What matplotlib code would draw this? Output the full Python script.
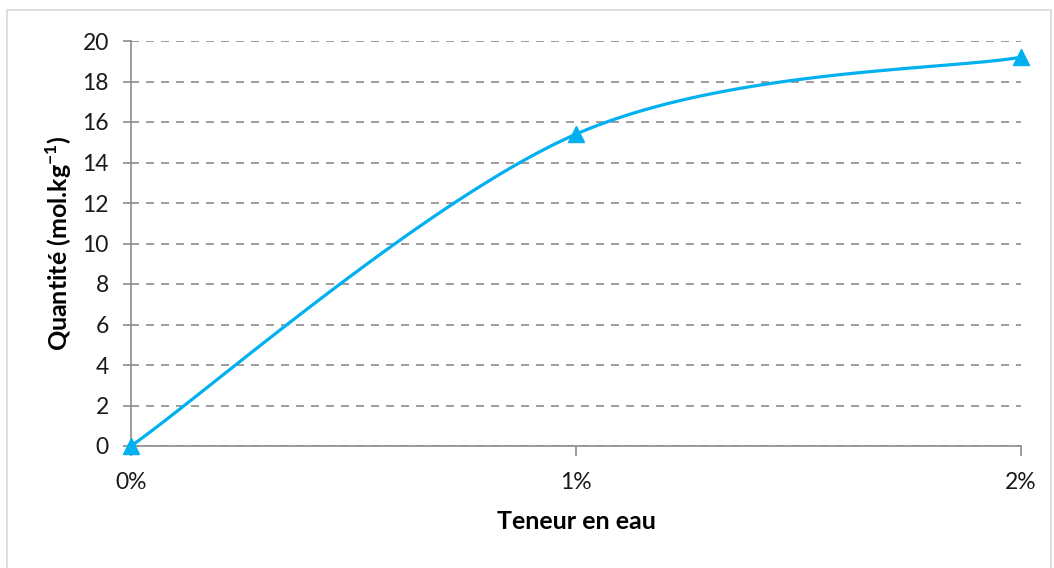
import numpy as np
import matplotlib.pyplot as plt
import matplotlib.patches as mpatches

plt.rcParams['font.family'] = ['Lato', 'DejaVu Sans']
plt.rcParams['mathtext.fontset'] = 'custom'
plt.rcParams['mathtext.bf'] = 'Lato:bold'
plt.rcParams['mathtext.rm'] = 'Lato:bold'

# teneur en eau (%) et quantité adsorbée
teneur = [0, 1, 2]
teneur_labels = ['0%', '1%', '2%']
quantite = [0.0, 15.4, 19.2]

LINE_COLOR = '#00B0F0'
GRID_COLOR = '#8C8C8C'


def smooth_curve(xs, ys, sx, sy, n=60):
    """Courbe lissée type tableur (Bezier, tension 1/6) calculée en pixels."""
    px = np.asarray(xs, float) * sx
    py = np.asarray(ys, float) * sy
    pts = np.column_stack([px, py])
    ext = np.vstack([pts[0], pts, pts[-1]])
    out = []
    t = np.linspace(0, 1, n)[:, None]
    for i in range(len(pts) - 1):
        p0, p3 = ext[i + 1], ext[i + 2]
        c1 = p0 + (ext[i + 2] - ext[i]) / 6
        c2 = p3 - (ext[i + 3] - ext[i + 1]) / 6
        seg = ((1 - t) ** 3) * p0 + 3 * ((1 - t) ** 2) * t * c1 \
            + 3 * (1 - t) * t ** 2 * c2 + t ** 3 * p3
        out.append(seg)
    out = np.vstack(out)
    return out[:, 0] / sx, out[:, 1] / sy


fig = plt.figure(figsize=(10.54, 5.68), dpi=100)
# cadre gris clair du graphique (le bas sort de l'image)
fig.patches.append(mpatches.Rectangle((7 / 1054, -10 / 568), 1044 / 1054, 568 / 568,
                                      transform=fig.transFigure, fill=False,
                                      edgecolor='#D9D9D9', linewidth=1.2))

ax = fig.add_axes([131 / 1054, 1 - 446 / 568, 890 / 1054, 405 / 568])

# pixels par unité sur chaque axe
sx, sy = 890 / 2, 405 / 20
cx, cy = smooth_curve(teneur, quantite, sx, sy)
ax.plot(cx, cy, color=LINE_COLOR, linewidth=2.3, zorder=3, clip_on=False)
ax.plot(teneur, quantite, linestyle='none', marker='^', markersize=12,
        color=LINE_COLOR, zorder=4, clip_on=False)

ax.set_xlim(0, 2)
ax.set_ylim(0, 20)
ax.set_yticks(np.arange(0, 21, 2))
ax.set_xticks(teneur)
ax.set_xticklabels(teneur_labels)

ax.grid(axis='y', linestyle=(0, (4.8, 4.2)), color=GRID_COLOR, linewidth=1.2)
ax.set_axisbelow(True)

for side in ['top', 'right']:
    ax.spines[side].set_visible(False)
for side in ['left', 'bottom']:
    ax.spines[side].set_color(GRID_COLOR)
    ax.spines[side].set_linewidth(1.2)

ax.tick_params(axis='y', length=6, width=1.2, color=GRID_COLOR, labelsize=16.5,
               pad=10, labelcolor='#1a1a1a')
ax.tick_params(axis='x', length=7, width=1.2, color=GRID_COLOR, labelsize=16.5,
               pad=12, labelcolor='#1a1a1a')

ax.set_ylabel(r'Quantité (mol.kg$^{-1}$)', fontsize=18, fontweight='bold',
              labelpad=6)
ax.set_xlabel('Teneur en eau', fontsize=18, fontweight='bold', labelpad=12)

fig.savefig('out.png', dpi=100)
